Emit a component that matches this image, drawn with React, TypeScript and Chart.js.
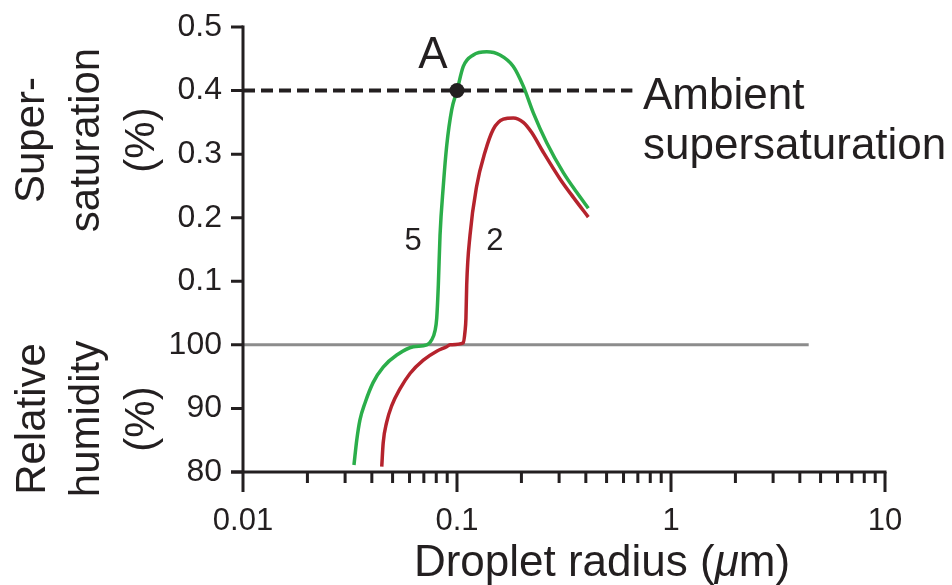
import React, { useEffect, useRef } from "react";
import { Chart, registerables } from "chart.js";

Chart.register(...registerables);

// ---------- data ----------
// droplet radius in micrometres; humidity in % (values above 100 mean supersaturation = value - 100)
const xTickValues = [0.01, 0.1, 1, 10];
const xTickLabels = ["0.01", "0.1", "1", "10"];
const yTickLabels = ["80", "90", "100", "0.1", "0.2", "0.3", "0.4", "0.5"];

const curve5Radius = [0.033, 0.034, 0.0352, 0.0372, 0.0406, 0.0452, 0.0523, 0.0625, 0.0722, 0.0762, 0.0789, 0.0804, 0.0818, 0.0833, 0.0863, 0.0895, 0.0945, 0.1, 0.107, 0.1192, 0.1377, 0.1588, 0.1833, 0.2041, 0.2273, 0.2626, 0.3139, 0.3625, 0.4108];
const curve5RH = [81.1, 85.0, 88.2, 90.9, 94.1, 96.5, 98.4, 99.7, 100.0, 100.008, 100.022, 100.042, 100.094, 100.172, 100.25, 100.313, 100.37, 100.4, 100.438, 100.456, 100.461, 100.456, 100.438, 100.407, 100.365, 100.318, 100.271, 100.24, 100.215];

const curve2Radius = [0.0445, 0.0452, 0.0469, 0.0495, 0.0542, 0.0603, 0.0696, 0.0804, 0.0895, 0.0928, 0.107, 0.109, 0.1101, 0.111, 0.115, 0.1236, 0.1351, 0.1477, 0.1646, 0.1833, 0.2041, 0.2234, 0.2531, 0.303, 0.3497, 0.4108];
const curve2RH = [80.85, 84.6, 87.8, 90.4, 93.1, 95.5, 97.6, 99.0, 99.7, 100.0, 100.003, 100.021, 100.042, 100.094, 100.172, 100.25, 100.303, 100.339, 100.355, 100.357, 100.35, 100.334, 100.303, 100.261, 100.232, 100.201];

const saturationRadius = [0.01, 4.4];
const saturationRH = [100, 100];

const ambientRadius = [0.01, 0.66];
const ambientRH = [100.4, 100.4];

const pointARadius = [0.1];
const pointARH = [100.4];

// ---------- styling ----------
const FONT = "'Liberation Sans', Arial, Helvetica, sans-serif";
const INK = "#231f20";
const GREEN = "#2bae4a";
const RED = "#b5232d";
const GREY = "#8c8c8c";

// composite axis: 80..100 %RH on the lower part, 0..0.5 % supersaturation above
const toAxis = (rh: number) => (rh <= 100 ? (rh - 80) / 10 : 2 + (rh - 100) * 10);
const pts = (xs: number[], ys: number[]) => xs.map((x, i) => ({ x, y: toAxis(ys[i]) }));

const decorPlugin = {
  id: "decor",
  afterDraw(chart: any) {
    const ctx = chart.ctx as CanvasRenderingContext2D;
    const xs = chart.scales.x;
    const ys = chart.scales.y;
    const { left, right, top, bottom } = chart.chartArea;
    ctx.save();
    ctx.strokeStyle = INK;
    ctx.fillStyle = INK;
    ctx.lineCap = "butt";

    // axis lines
    ctx.lineWidth = 3;
    ctx.beginPath();
    ctx.moveTo(left - 12, bottom);
    ctx.lineTo(right + 1.5, bottom);
    ctx.moveTo(left, top - 1.5);
    ctx.lineTo(left, bottom + 20);
    ctx.stroke();

    // x ticks (log minor + major)
    ctx.beginPath();
    for (let e = -2; e <= 1; e++) {
      for (let m = 1; m <= 9; m++) {
        const v = m * Math.pow(10, e);
        if (v < 0.0099 || v > 10.01) continue;
        if (e === -2 && m === 1) continue;
        const px = xs.getPixelForValue(v);
        const len = m === 1 ? 20 : 11;
        ctx.moveTo(px, bottom);
        ctx.lineTo(px, bottom + len);
      }
    }
    ctx.stroke();

    // y ticks
    ctx.beginPath();
    for (let i = 0; i < yTickLabels.length; i++) {
      const py = ys.getPixelForValue(i);
      ctx.moveTo(left, py);
      ctx.lineTo(left - 12, py);
    }
    ctx.stroke();

    // y titles (rotated)
    const rotLines = (lines: string[], xsBase: number[], cy: number) => {
      lines.forEach((t, i) => {
        ctx.save();
        ctx.translate(xsBase[i], cy);
        ctx.rotate(-Math.PI / 2);
        ctx.font = `42px ${FONT}`;
        ctx.textAlign = "center";
        ctx.textBaseline = "alphabetic";
        ctx.fillText(t, 0, 0);
        ctx.restore();
      });
    };
    rotLines(["Super-", "saturation", "(%)"], [44, 99, 154], 140);
    rotLines(["Relative", "humidity", "(%)"], [45, 99, 154], 419);

    // x title with italic mu
    ctx.textBaseline = "alphabetic";
    ctx.textAlign = "left";
    const pre = "Droplet radius (";
    const mu = "\u03bc";
    const post = "m)";
    const tf = 44;
    ctx.font = `${tf}px ${FONT}`;
    const wPre = ctx.measureText(pre).width;
    const wPost = ctx.measureText(post).width;
    ctx.font = `italic ${tf}px ${FONT}`;
    const wMu = ctx.measureText(mu).width;
    const total = wPre + wMu + wPost;
    let tx = 602 - total / 2;
    const ty = 576;
    ctx.font = `${tf}px ${FONT}`;
    ctx.fillText(pre, tx, ty);
    tx += wPre;
    ctx.font = `italic ${tf}px ${FONT}`;
    ctx.fillText(mu, tx, ty);
    tx += wMu;
    ctx.font = `${tf}px ${FONT}`;
    ctx.fillText(post, tx, ty);

    // annotations in data coordinates
    const at = (r: number, rh: number) => [xs.getPixelForValue(r), ys.getPixelForValue(toAxis(rh))];
    ctx.textAlign = "center";
    ctx.textBaseline = "middle";
    ctx.font = `44px ${FONT}`;
    let [ax, ay] = at(0.0772, 100.455);
    ctx.fillText("A", ax, ay);
    ctx.font = `31px ${FONT}`;
    [ax, ay] = at(0.0623, 100.163);
    ctx.fillText("5", ax, ay);
    [ax, ay] = at(0.1505, 100.163);
    ctx.fillText("2", ax, ay);
    ctx.textAlign = "left";
    ctx.font = `44px ${FONT}`;
    [ax, ay] = at(0.74, 100.4);
    ctx.fillText("Ambient", ax, ay + 6);
    ctx.fillText("supersaturation", ax, ay + 56);

    ctx.restore();
  },
};

export default function App() {
  const ref = useRef<HTMLCanvasElement | null>(null);

  useEffect(() => {
    if (!ref.current) return;
    const chart = new Chart(ref.current, {
      type: "scatter",
      data: {
        datasets: [
          {
            label: "A",
            data: pts(pointARadius, pointARH),
            pointRadius: 7.5,
            pointBackgroundColor: INK,
            pointBorderWidth: 0,
            showLine: false,
          },
          {
            label: "5",
            data: pts(curve5Radius, curve5RH),
            showLine: true,
            borderColor: GREEN,
            borderWidth: 3.5,
            pointRadius: 0,
            cubicInterpolationMode: "monotone",
          },
          {
            label: "2",
            data: pts(curve2Radius, curve2RH),
            showLine: true,
            borderColor: RED,
            borderWidth: 3.5,
            pointRadius: 0,
            cubicInterpolationMode: "monotone",
          },
          {
            label: "Ambient supersaturation",
            data: pts(ambientRadius, ambientRH),
            showLine: true,
            borderColor: INK,
            borderWidth: 4,
            borderDash: [12, 6],
            pointRadius: 0,
          },
          {
            label: "Saturation",
            data: pts(saturationRadius, saturationRH),
            showLine: true,
            borderColor: GREY,
            borderWidth: 3,
            pointRadius: 0,
          },
        ],
      },
      options: {
        animation: false,
        responsive: false,
        maintainAspectRatio: false,
        layout: { padding: { top: 27, right: 67, left: 0, bottom: 0 } },
        plugins: {
          legend: { display: false },
          tooltip: { enabled: false },
          title: { display: false },
        },
        scales: {
          x: {
            type: "logarithmic",
            min: 0.01,
            max: 10,
            grid: { display: false, drawTicks: false },
            border: { display: false },
            afterBuildTicks: (scale: any) => {
              scale.ticks = xTickValues.map((v) => ({ value: v }));
            },
            afterFit: (scale: any) => {
              scale.height = 113;
              scale.paddingLeft = 0;
              scale.paddingRight = 0;
            },
            ticks: {
              autoSkip: false,
              maxRotation: 0,
              padding: 31,
              color: INK,
              font: { family: FONT, size: 31 },
              callback: (v: any) => {
                const i = xTickValues.findIndex((d) => Math.abs(Number(v) / d - 1) < 1e-6);
                return i >= 0 ? xTickLabels[i] : "";
              },
            },
          },
          y: {
            type: "linear",
            min: 0,
            max: yTickLabels.length - 1,
            grid: { display: false, drawTicks: false },
            border: { display: false },
            afterFit: (scale: any) => {
              scale.width = 243;
              scale.paddingTop = 0;
              scale.paddingBottom = 0;
            },
            ticks: {
              stepSize: 1,
              padding: 21,
              color: INK,
              font: { family: FONT, size: 32 },
              callback: (v: any) => yTickLabels[Math.round(Number(v))] ?? "",
            },
          },
        },
      },
      plugins: [decorPlugin],
    } as any);
    return () => chart.destroy();
  }, []);

  return (
    <div style={{ position: "absolute", left: 0, top: 0, width: 952, height: 585, background: "#fff" }}>
      <canvas ref={ref} width={952} height={585} style={{ display: "block" }} />
    </div>
  );
}
